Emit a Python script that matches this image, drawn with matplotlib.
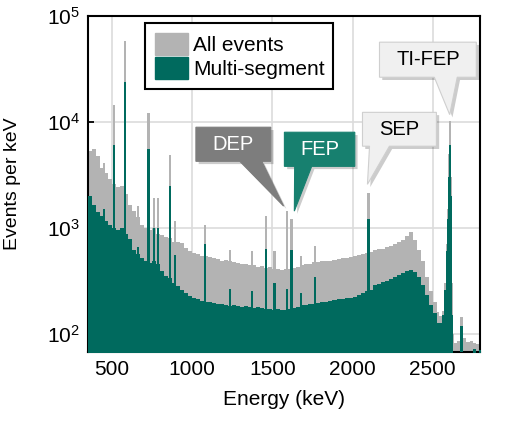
import numpy as np
import matplotlib.pyplot as plt
import matplotlib.transforms as mtransforms
from matplotlib.patches import Patch, Polygon
from matplotlib.ticker import NullLocator

plt.rcParams['font.family'] = ['Liberation Sans', 'DejaVu Sans']
plt.rcParams['mathtext.default'] = 'regular'

# Continuum: bin left edges (keV)
cont_e = list(np.arange(350, 2525, 25)) + [2525, 2540, 2555, 2570, 2580, 2590, 2596, 2612,
                                            2618, 2625, 2635, 2650, 2670, 2690, 2710, 2730,
                                            2750, 2770, 2790]

# All events, continuum level per bin (events per keV)
all_cont = [5300, 5500, 4800, 3700, 3300, 2900, 2600, 2400, 2500, 2100,
            1650, 1450, 1250, 1050, 1000, 960, 990, 880, 860, 820,
            800, 740, 730, 710, 650, 600, 575, 560, 545, 540,
            525, 520, 510, 490, 495, 480, 470, 465, 450, 455,
            440, 445, 430, 435, 420, 425, 410, 405, 400, 410,
            405, 420, 430, 445, 450, 455, 470, 470, 480, 490,
            485, 500, 505, 515, 520, 525, 540, 550, 565, 575,
            595, 610, 625, 635, 660, 675, 700, 735, 770, 830,
            920, 760, 620, 480, 340, 250, 200,
            160, 146, 165, 300, 700, 1500, 5000, 3000,
            300, 100, 82, 86, 88, 90, 84, 86, 82, 80, 78]

# Multi-segment events, continuum level per bin
ms_cont = [2000, 1650, 1400, 1300, 1150, 1050, 1000, 950, 1000, 880,
           780, 620, 560, 520, 480, 460, 490, 450, 390, 350,
           335, 300, 280, 260, 240, 225, 218, 210, 205, 200,
           198, 196, 190, 192, 188, 184, 186, 184, 180, 182,
           180, 176, 178, 174, 172, 170, 168, 170, 166, 168,
           170, 175, 180, 185, 186, 190, 192, 195, 198, 200,
           205, 206, 210, 214, 215, 218, 222, 230, 240, 250,
           260, 285, 295, 305, 315, 325, 340, 355, 375, 390,
           400, 385, 345, 290, 230, 185, 155,
           125, 127, 150, 260, 600, 1200, 3000, 2000,
           150, 60, 60, 60, 62, 60, 62, 60, 72, 60, 70]

# Gamma lines: energy (keV), all events, multi-segment
peak_e = [452, 511, 583, 660, 727, 763, 785, 861, 893, 1079, 1238, 1373,
          1460, 1513, 1592, 1620, 1680, 1764, 2100, 2606, 2680]
peak_all = [4100, 14500, 58000, 1600, 12000, 1900, 1900, 4900, 1150, 1070, 620, 600,
            1300, 600, 1430, 1200, 540, 670, 2140, 10200, 142]
peak_ms = [1500, 6100, 24000, 650, 5500, 1000, 1000, 2500, 550, 700, 260, 250,
           630, 300, 260, 620, 240, 340, 1200, 6000, 117]

gray = '#b3b3b3'
teal = '#006a5e'

fig = plt.figure(figsize=(5.08, 4.24), dpi=100)
ax = fig.add_axes([88 / 508, 72 / 424, 392 / 508, 336 / 424])

edges = cont_e + [2800]
ax.fill_between(edges, all_cont + [all_cont[-1]], 1, step='post', color=gray, lw=0, zorder=2)
ax.bar(peak_e, peak_all, width=14, bottom=1, color=gray, lw=0, zorder=2)
ax.fill_between(edges, ms_cont + [ms_cont[-1]], 1, step='post', color=teal, lw=0, zorder=3)
ax.bar(peak_e, peak_ms, width=14, bottom=1, color=teal, lw=0, zorder=3)

ax.set_yscale('log')
ax.set_xlim(350, 2795)
ax.set_ylim(67, 1e5)
ax.set_xticks([500, 1000, 1500, 2000, 2500])
ax.yaxis.set_minor_locator(NullLocator())
ax.grid(True, color='#dcdcdc', lw=1.2)
ax.set_axisbelow(True)
ax.tick_params(direction='in', length=4, width=1.3, labelsize=15, pad=6)
for s in ax.spines.values():
    s.set_linewidth(1.5)

ax.set_xlabel('Energy (keV)', fontsize=15)
ax.set_ylabel('Events per keV', fontsize=14)
ax.xaxis.set_label_coords(0.5, -0.112)
ax.yaxis.set_label_coords(-0.172, 0.5)

leg = ax.legend([Patch(color=gray), Patch(color=teal)], ['All events', 'Multi-segment'],
                loc='upper left', bbox_to_anchor=(0.145, 0.979, 0.48, 0), mode='expand',
                borderaxespad=0, fontsize=15, handlelength=1.55, handleheight=1.2,
                labelspacing=0.1, borderpad=0.5, handletextpad=0.25, fancybox=False,
                framealpha=1, edgecolor='black')
leg.get_frame().set_linewidth(1.5)
leg.set_zorder(5)

# callouts: text, box (E0, E1, v0, v1), pointer base (E0, E1), tip (E, v), colours
callouts = [
    ('DEP', (1023, 1490, 4240, 8900), (1297, 1434), (1570, 1600), '#7d7d7d', 'white'),
    ('FEP', (1575, 2014, 3800, 7980), (1639, 1745), (1637, 1435), '#17806f', 'white'),
    ('SEP', (2062, 2523, 5890, 12300), (2106, 2230), (2093, 2570), '#f0f0f0', 'black'),
    ('TI-FEP', (2168, 2772, 26400, 56600), (2510, 2653), (2606, 11700), '#f0f0f0', 'black'),
]
shadow = ax.transData + mtransforms.ScaledTranslation(2 / 72, -2 / 72, fig.dpi_scale_trans)
for txt, (x0, x1, y0, y1), (b0, b1), tip, fc, tc in callouts:
    verts = [(x0, y1), (x1, y1), (x1, y0), (b1, y0), tip, (b0, y0), (x0, y0)]
    ax.add_patch(Polygon(verts, closed=True, fc='black', alpha=0.2, lw=0,
                         transform=shadow, zorder=6))
    ax.add_patch(Polygon(verts, closed=True, fc=fc, ec='#cfcfcf' if tc == 'black' else fc,
                         lw=0.8, zorder=7))
    ax.text((x0 + x1) / 2, np.sqrt(y0 * y1), txt, color=tc, fontsize=14.5,
            ha='center', va='center', zorder=8)

fig.savefig('out.png', dpi=100)
